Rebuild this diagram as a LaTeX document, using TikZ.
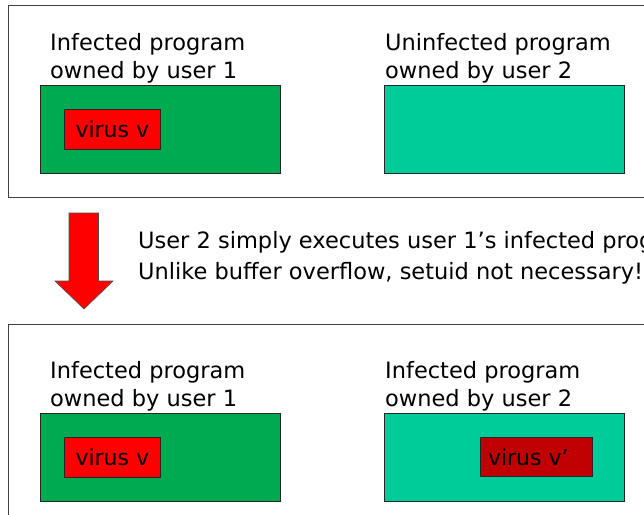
\documentclass[tikz,border=0pt]{standalone}
\usepackage{fontspec}
\setmainfont{DejaVu Sans}
\definecolor{greenc}{RGB}{0,170,80}
\definecolor{tealc}{RGB}{0,204,153}
\definecolor{redc}{RGB}{255,0,0}
\definecolor{darkredc}{RGB}{192,0,0}
\begin{document}
\begin{tikzpicture}[x=1pt,y=-1pt,
  frame/.style={draw=black!75, line width=0.8pt},
  prog/.style={draw=black!85, line width=0.7pt, anchor=north west, minimum width=240pt, minimum height=88pt, inner sep=0pt},
  vir/.style={draw=black!85, line width=0.7pt, anchor=north west, minimum width=96pt, minimum height=40pt, inner sep=0pt, font=\fontsize{22}{26}\selectfont},
  lbl/.style={anchor=base west, inner sep=0pt, font=\fontsize{22.5}{26}\selectfont}]
\useasboundingbox (0,0) rectangle (644,514);
\clip (0,0) rectangle (644,514);
% top frame
\draw[frame] (8,5) rectangle (700,197);
\node[lbl] (t1a) at (50,50) {Infected program};
\node[lbl] (t1b) at (50,78) {owned by user 1};
\node[lbl] (t2a) at (385,50) {Uninfected program};
\node[lbl] (t2b) at (385,78) {owned by user 2};
\node[prog, fill=greenc] (g1) at (40,85) {};
\node[prog, fill=tealc] (c1) at (384,85) {};
\node[vir, fill=redc] (v1) at (64,109) {virus v};
% arrow
\draw[fill=redc, draw=black!70, line width=0.6pt] (69,213) -- (98.5,213) -- (98.5,281) -- (113,281) -- (84,309) -- (55,281) -- (69,281) -- cycle;
\node[lbl] (m1) at (138,248) {User 2 simply executes user 1’s infected program};
\node[lbl] (m2) at (138,279) {Unlike buffer overflow, setuid not necessary!};
% bottom frame
\draw[frame] (8,324) rectangle (700,600);
\node[lbl] (b1a) at (50,378) {Infected program};
\node[lbl] (b1b) at (50,406) {owned by user 1};
\node[lbl] (b2a) at (385,378) {Infected program};
\node[lbl] (b2b) at (385,406) {owned by user 2};
\node[prog, fill=greenc] (g2) at (40,413) {};
\node[prog, fill=tealc] (c2) at (384,413) {};
\node[vir, fill=redc] (v2) at (64,437) {virus v};
\node[vir, fill=darkredc, minimum width=112pt, minimum height=39pt] (v3) at (480,437) {\hspace{-16pt}virus v’};
\end{tikzpicture}
\end{document}
